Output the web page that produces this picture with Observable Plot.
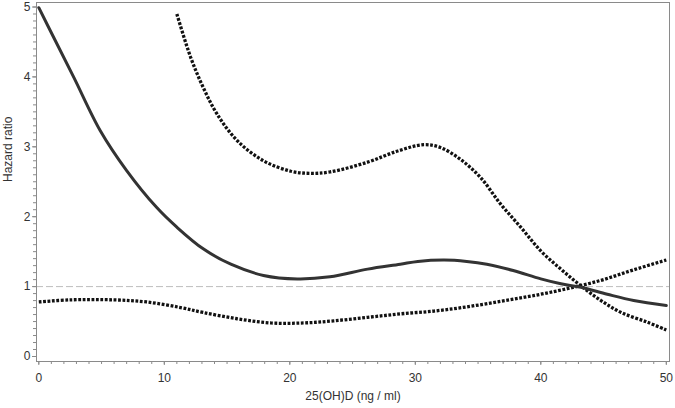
<!DOCTYPE html>
<html>
<head>
<meta charset="utf-8">
<script src="https://cdn.jsdelivr.net/npm/d3@7"></script>
<script src="https://cdn.jsdelivr.net/npm/@observablehq/plot@0.6"></script>
<style>
  html, body { margin: 0; padding: 0; background: #fff; }
  svg { display: block; }
</style>
</head>
<body>
<div id="chart"></div>
<script>
// Hazard ratio (solid)
const hrX = [0,1.2,2.8,4.9,7.0,9.4,11.0,13.1,15.3,17.9,20.6,23.2,26.2,28.8,30.2,32.3,34.1,35.7,37.8,40.0,41.6,43.2,45.3,47.4,50];
const hrY = [4.99,4.56,3.99,3.23,2.66,2.13,1.85,1.54,1.32,1.16,1.11,1.14,1.25,1.32,1.36,1.38,1.36,1.32,1.23,1.11,1.04,0.99,0.89,0.80,0.73];
// Upper confidence limit (dotted)
const upX = [11.0,12.1,13.1,14.2,15.8,17.9,20.1,21.6,23.2,26.2,28.6,30.7,32.0,33.6,35.2,36.8,38.4,40.0,41.6,43.2,44.8,46.4,48.5,50];
const upY = [4.90,4.28,3.85,3.47,3.09,2.80,2.65,2.62,2.64,2.78,2.94,3.03,2.99,2.82,2.56,2.18,1.85,1.51,1.25,1.01,0.80,0.63,0.49,0.38];
// Lower confidence limit (dotted)
const loX = [0,2.5,6.0,8.6,11.3,13.1,15.8,18.5,21.1,23.5,26.2,28.8,31.5,34.1,36.8,39.4,42.1,44.8,47.4,50];
const loY = [0.78,0.81,0.81,0.78,0.70,0.63,0.54,0.48,0.48,0.51,0.56,0.61,0.65,0.71,0.79,0.87,0.97,1.09,1.24,1.38];

const xMajor = [0,10,20,30,40,50];
const yMajor = [0,1,2,3,4,5];
const refValue = 1;
const xLabel = "25(OH)D (ng / ml)";
const yLabel = "Hazard ratio";

const toRows = (xs, ys) => xs.map((x, i) => ({x, y: ys[i]}));
const hr = toRows(hrX, hrY);
const up = toRows(upX, upY);
const lo = toRows(loX, loY);
const xMinor = d3.range(0, 51, 1);
const yMinor = d3.range(0, 51, 1).map(d => d / 10);

const axisColor = "#8a8a8a";
const font = "'Liberation Sans', Arial, Helvetica, sans-serif";
const dotted = {x: "x", y: "y", curve: "catmull-rom", stroke: "#111", strokeWidth: 3.3, strokeDasharray: "2.8,1.6", strokeLinecap: "butt", strokeLinejoin: "miter"};

const chart = Plot.plot({
  width: 675,
  height: 408,
  marginLeft: 36,
  marginRight: 6,
  marginTop: 2,
  marginBottom: 47,
  style: {fontFamily: font, fontSize: "12px", color: "#333", background: "#fff"},
  x: {domain: [0, 50], range: [38.3, 665.8]},
  y: {domain: [0, 5], range: [356, 6.5]},
  marks: [
    Plot.ruleY([refValue], {stroke: "#bdbdbd", strokeWidth: 1, strokeDasharray: "7,3"}),
    Plot.axisX(xMinor, {tickSize: 3, text: null, stroke: axisColor, label: null}),
    Plot.axisX(xMajor, {tickSize: 4, tickPadding: 8, stroke: axisColor, fill: "#333", fontSize: 12, label: null, tickFormat: d => String(d)}),
    Plot.axisY(yMinor, {tickSize: 3, text: null, stroke: axisColor, label: null}),
    Plot.axisY(yMajor, {tickSize: 4, tickPadding: 2, stroke: axisColor, fill: "#333", fontSize: 12, label: null, tickFormat: d => String(d)}),
    Plot.frame({stroke: axisColor, strokeWidth: 1}),
    Plot.line(lo, dotted),
    Plot.line(up, dotted),
    Plot.line(hr, {x: "x", y: "y", curve: "catmull-rom", stroke: "#333", strokeWidth: 3}),
    Plot.text([xLabel], {frameAnchor: "bottom", dy: 38, fontSize: 12, fill: "#333"}),
    Plot.text([yLabel], {frameAnchor: "left", dx: -28, rotate: -90, fontSize: 12, fill: "#333"})
  ]
});
document.getElementById("chart").appendChild(chart);
</script>
</body>
</html>
